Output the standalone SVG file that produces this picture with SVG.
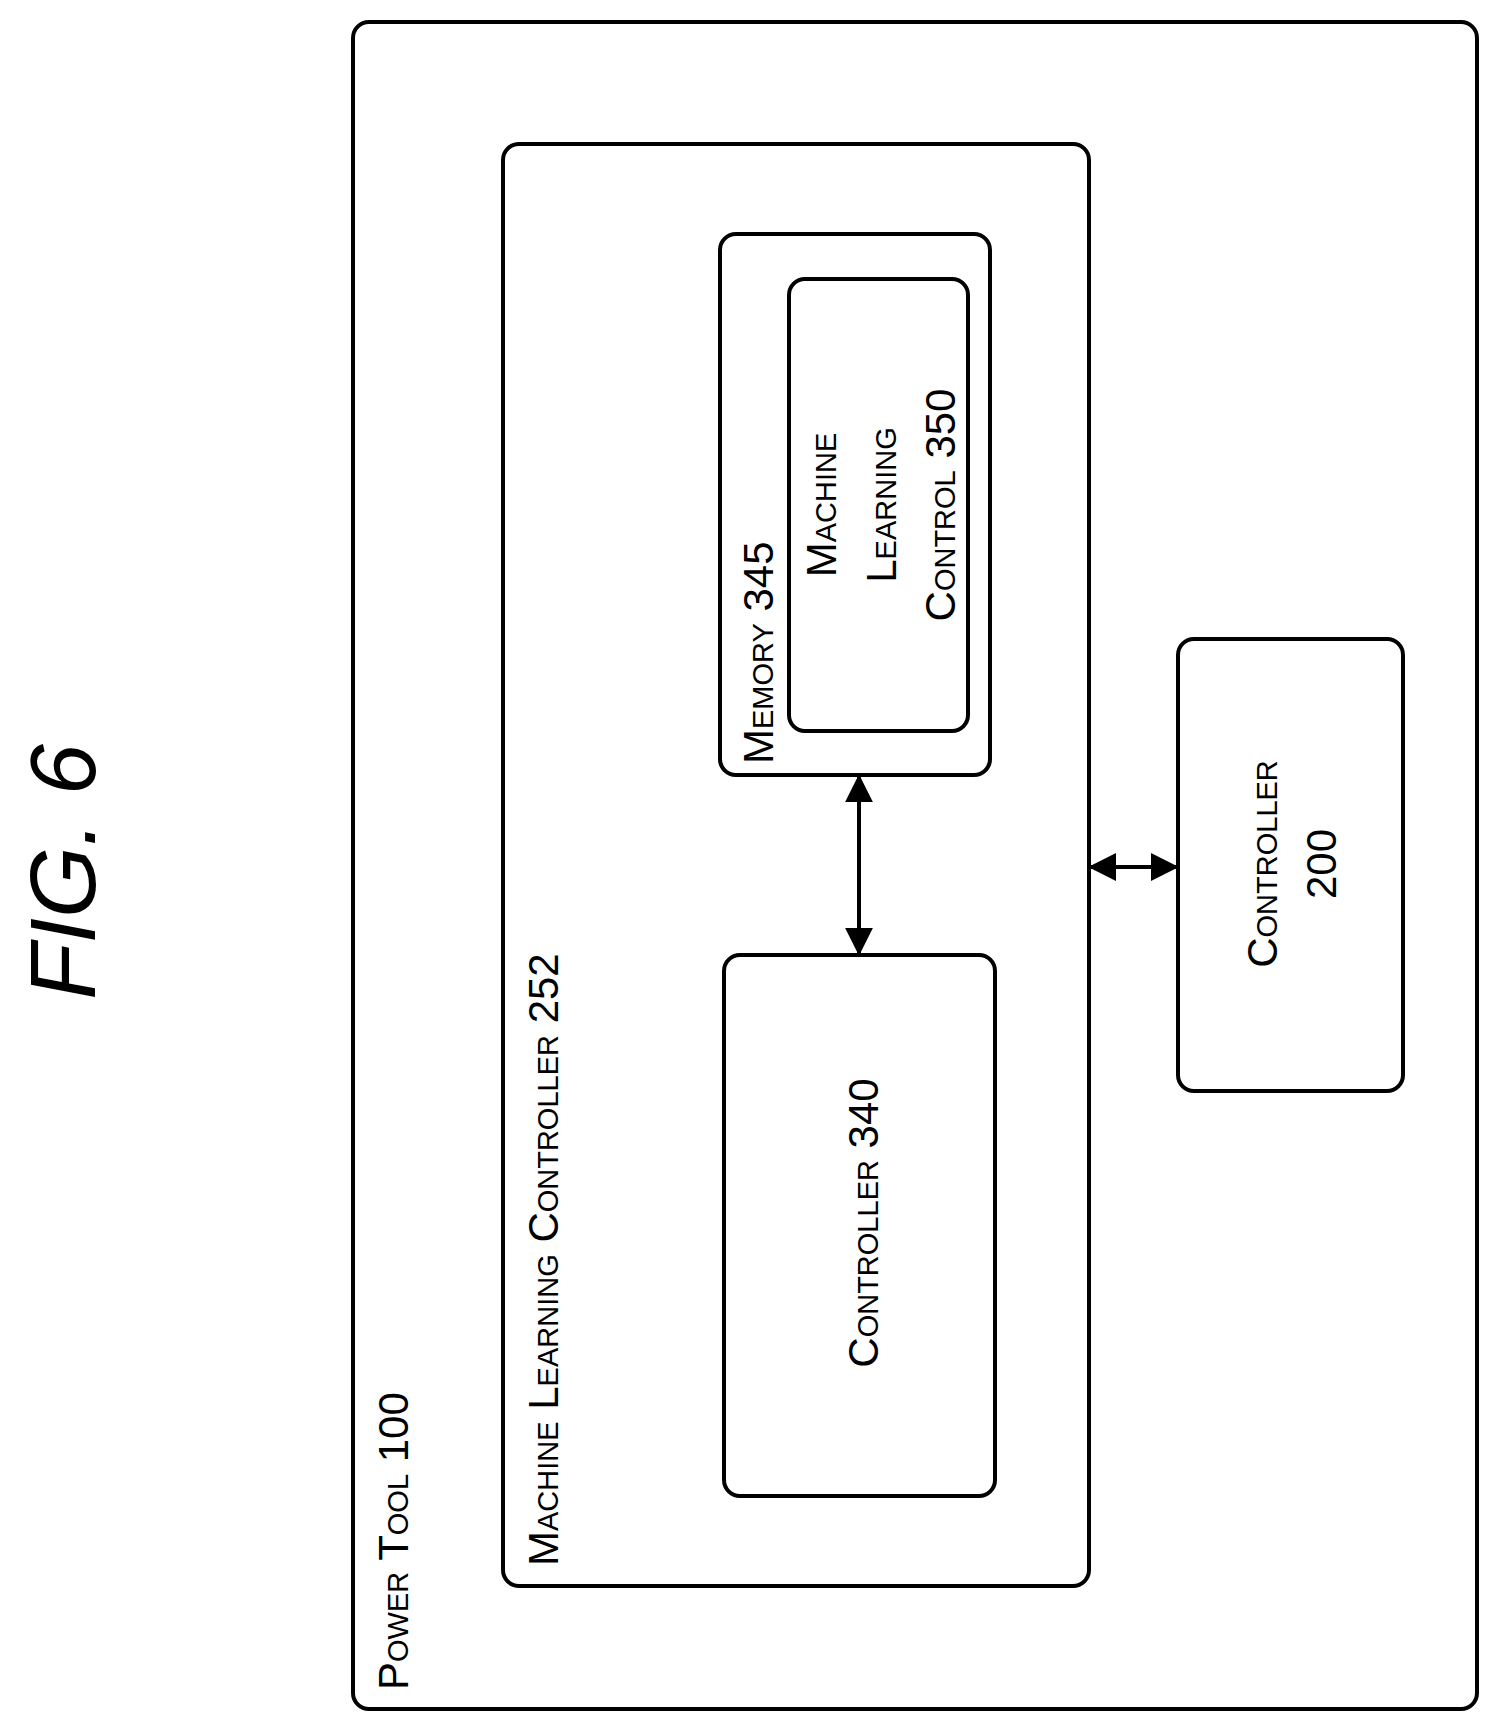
<svg xmlns="http://www.w3.org/2000/svg" width="1501" height="1732" viewBox="0 0 1501 1732">
<defs>
<style>
.b{fill:none;stroke:#000;stroke-width:4}
.t{font-family:"Liberation Sans",Arial,sans-serif;font-size:42px;font-variant:small-caps;fill:#000}
.c{text-anchor:middle}
</style>
<marker id="a" viewBox="0 0 10 10" refX="9" refY="5" markerWidth="8" markerHeight="8" markerUnits="userSpaceOnUse" orient="auto-start-reverse"><path d="M0,0L10,5L0,10z"/></marker>
<marker id="h" viewBox="0 0 10 10" refX="9" refY="5" markerWidth="7" markerHeight="7" orient="auto-start-reverse"><path d="M0,0L10,5L0,10z"/></marker>
</defs>
<rect width="1501" height="1732" fill="#fff"/>
<text transform="translate(95,872) rotate(-90)" class="c" style="font-family:'Liberation Sans',Arial,sans-serif;font-size:92px;font-style:italic">FIG. 6</text>
<g id="powertool"><rect class="b" x="353" y="22" width="1124" height="1687" rx="16"/>
<text class="t" transform="translate(408,1690) rotate(-90)">Power Tool 100</text></g>
<g id="mlc252"><rect class="b" x="503" y="144" width="586" height="1442" rx="16"/>
<text class="t" transform="translate(558,1566) rotate(-90)">Machine Learning Controller 252</text></g>
<g id="memory345"><rect class="b" x="720" y="234" width="270" height="541" rx="16"/>
<text class="t" transform="translate(773,764) rotate(-90)">Memory 345</text></g>
<g id="mlcontrol350"><rect class="b" x="789" y="279" width="179" height="452" rx="16"/>
<text class="t c" transform="translate(836,505) rotate(-90)">Machine</text>
<text class="t c" transform="translate(896,505) rotate(-90)">Learning</text>
<text class="t c" transform="translate(955,505) rotate(-90)">Control 350</text></g>
<g id="controller340"><rect class="b" x="724" y="955" width="271" height="541" rx="16"/>
<text class="t c" transform="translate(878,1223) rotate(-90)">Controller 340</text></g>
<g id="controller200"><rect class="b" x="1178" y="639" width="225" height="452" rx="16"/>
<text class="t c" transform="translate(1277,864) rotate(-90)">Controller</text>
<text class="t c" transform="translate(1336,864) rotate(-90)">200</text></g>
<g id="connectors" stroke="#000" stroke-width="4">
<line x1="859" y1="777" x2="859" y2="953" marker-start="url(#h)" marker-end="url(#h)"/>
<line x1="1091" y1="867" x2="1176" y2="867" marker-start="url(#h)" marker-end="url(#h)"/>
</g>
</svg>
